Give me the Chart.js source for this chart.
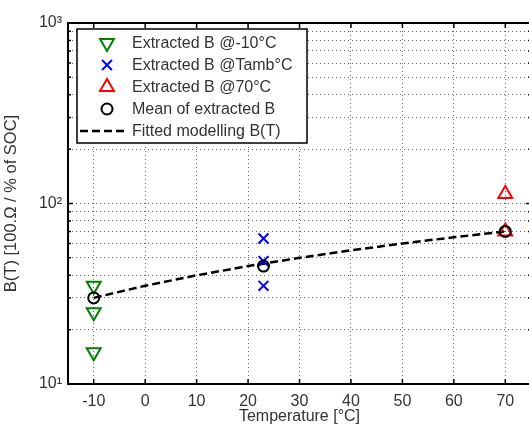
<html>
    <head>
        <script src="https://cdn.jsdelivr.net/npm/chart.js@4.4.1/dist/chart.umd.min.js"></script>
        <style>
            body { margin: 0; overflow: hidden; background: #fff; }
        </style>
    </head>
    <body>
        <canvas id="myChart" width="541" height="429"></canvas>

        <script>
            // values
            var tempCold = [-10, -10, -10];
            var bCold = [35, 25, 15];
            var tempAmb = [23, 23, 23];
            var bAmb = [64, 48, 35];
            var tempHot = [70, 70];
            var bHot = [113, 70];
            var tempMean = [-10, 23, 70];
            var bMean = [30, 45, 70];
            var tempFit = [-10, 0, 10, 20, 30, 40, 50, 60, 70];
            var bFit = [30, 35, 40, 45, 50, 55, 60, 65, 70];

            var xTicks = [-10, 0, 10, 20, 30, 40, 50, 60, 70];
            var yTicks = [10, 20, 30, 40, 50, 60, 70, 80, 90, 100, 200, 300, 400, 500, 600, 700, 800, 900, 1000];
            var yMajorLabels = { 10: '10\u00B9', 100: '10\u00B2', 1000: '10\u00B3' };

            function pts(xs, ys) {
                return xs.map(function (x, i) { return { x: x, y: ys[i] }; });
            }

            var textColor = '#333';
            var fontFamily = '"Liberation Sans", Arial, sans-serif';

            // MATLAB style box + inward ticks
            var boxPlugin = {
                id: 'box',
                afterDraw: function (chart) {
                    var ctx = chart.ctx, a = chart.chartArea;
                    var xs = chart.scales.x, ys = chart.scales.y;
                    ctx.save();
                    ctx.strokeStyle = '#000';
                    ctx.lineWidth = 1.5;
                    ctx.beginPath();
                    xTicks.forEach(function (v) {
                        var px = xs.getPixelForValue(v);
                        ctx.moveTo(px, a.bottom); ctx.lineTo(px, a.bottom - 5);
                        ctx.moveTo(px, a.top); ctx.lineTo(px, a.top + 5);
                    });
                    yTicks.forEach(function (v) {
                        var py = ys.getPixelForValue(v);
                        var len = yMajorLabels[v] ? 5 : 3;
                        ctx.moveTo(a.left, py); ctx.lineTo(a.left + len, py);
                        ctx.moveTo(a.right, py); ctx.lineTo(a.right - len, py);
                    });
                    ctx.stroke();
                    ctx.lineWidth = 2;
                    ctx.strokeRect(a.left, a.top, a.right - a.left, a.bottom - a.top);
                    ctx.restore();
                }
            };

            // legend box in the upper left of the plot
            var legendPlugin = {
                id: 'boxLegend',
                afterDraw: function (chart) {
                    var ctx = chart.ctx, a = chart.chartArea;
                    var x0 = a.left + 9, y0 = a.top + 6, w = 230, h = 114, row = 22;
                    ctx.save();
                    ctx.fillStyle = '#fff';
                    ctx.fillRect(x0, y0, w, h);
                    ctx.strokeStyle = '#000';
                    ctx.lineWidth = 1.5;
                    ctx.strokeRect(x0, y0, w, h);
                    chart.data.datasets.forEach(function (ds, i) {
                        var cy = y0 + 14 + i * row;
                        var mx = x0 + 30;
                        if (ds.showLine) {
                            ctx.strokeStyle = ds.borderColor;
                            ctx.lineWidth = ds.borderWidth;
                            ctx.setLineDash(ds.borderDash || []);
                            ctx.beginPath();
                            ctx.moveTo(x0 + 3, cy); ctx.lineTo(x0 + 51, cy);
                            ctx.stroke();
                            ctx.setLineDash([]);
                        } else if (Chart.helpers && Chart.helpers.drawPoint) {
                            ctx.strokeStyle = ds.pointBorderColor;
                            ctx.fillStyle = 'rgba(0,0,0,0)';
                            ctx.lineWidth = ds.pointBorderWidth;
                            Chart.helpers.drawPoint(ctx, {
                                pointStyle: ds.pointStyle,
                                radius: ds.pointRadius,
                                rotation: ds.pointRotation || 0,
                                borderWidth: ds.pointBorderWidth
                            }, mx, cy);
                        }
                        ctx.fillStyle = textColor;
                        ctx.font = '16px ' + fontFamily;
                        ctx.textBaseline = 'middle';
                        ctx.fillText(ds.label, x0 + 55, cy + 1);
                    });
                    ctx.restore();
                }
            };

            var ctx = document.getElementById('myChart').getContext('2d');
            var chart = new Chart(ctx, {
                type: 'scatter',
                data: {
                    datasets: [{
                        label: 'Extracted B @-10\u00B0C',
                        data: pts(tempCold, bCold),
                        pointStyle: 'triangle',
                        pointRotation: 180,
                        pointRadius: 8,
                        pointBorderWidth: 2,
                        pointBorderColor: '#008000',
                        pointBackgroundColor: 'rgba(0,0,0,0)',
                        order: 1
                    }, {
                        label: 'Extracted B @Tamb\u00B0C',
                        data: pts(tempAmb, bAmb),
                        pointStyle: 'crossRot',
                        pointRadius: 7,
                        pointBorderWidth: 2,
                        pointBorderColor: '#0000ff',
                        order: 2
                    }, {
                        label: 'Extracted B @70\u00B0C',
                        data: pts(tempHot, bHot),
                        pointStyle: 'triangle',
                        pointRadius: 8,
                        pointBorderWidth: 2,
                        pointBorderColor: '#ff0000',
                        pointBackgroundColor: 'rgba(0,0,0,0)',
                        order: 3
                    }, {
                        label: 'Mean of extracted B',
                        data: pts(tempMean, bMean),
                        pointStyle: 'circle',
                        pointRadius: 5.5,
                        pointBorderWidth: 2,
                        pointBorderColor: '#000',
                        pointBackgroundColor: 'rgba(0,0,0,0)',
                        order: 0
                    }, {
                        label: 'Fitted modelling B(T)',
                        data: pts(tempFit, bFit),
                        showLine: true,
                        borderColor: '#000',
                        borderWidth: 2.5,
                        borderDash: [8, 4],
                        pointRadius: 0,
                        order: 4
                    }]
                },
                options: {
                    responsive: false,
                    animation: false,
                    layout: { padding: { top: 23, right: 0, left: 0, bottom: 0 } },
                    plugins: {
                        legend: { display: false },
                        tooltip: { enabled: false }
                    },
                    scales: {
                        x: {
                            type: 'linear',
                            min: -15,
                            max: 75,
                            afterFit: function (s) {
                                s.height = 45;
                                s.paddingLeft = 0;
                                s.paddingRight = 0;
                            },
                            afterBuildTicks: function (s) {
                                s.ticks = xTicks.map(function (v) { return { value: v }; });
                            },
                            border: { display: false, dash: [1, 3] },
                            grid: {
                                color: '#666',
                                lineWidth: 1,
                                drawTicks: false
                            },
                            ticks: {
                                padding: 8,
                                color: textColor,
                                font: { family: fontFamily, size: 16 }
                            },
                            title: {
                                display: true,
                                text: 'Temperature [\u00B0C]',
                                color: textColor,
                                font: { family: fontFamily, size: 16 },
                                padding: { top: 0, bottom: 3 }
                            }
                        },
                        y: {
                            type: 'logarithmic',
                            min: 10,
                            max: 1000,
                            afterFit: function (s) { s.width = 68; },
                            afterBuildTicks: function (s) {
                                s.ticks = yTicks.map(function (v) { return { value: v, major: !!yMajorLabels[v] }; });
                            },
                            border: { display: false, dash: [1, 3] },
                            grid: {
                                color: '#666',
                                lineWidth: 1,
                                drawTicks: false
                            },
                            ticks: {
                                padding: 6,
                                autoSkip: false,
                                color: textColor,
                                font: { family: fontFamily, size: 16 },
                                callback: function (v) { return yMajorLabels[v] || ''; }
                            },
                            title: {
                                display: true,
                                text: 'B(T) [100.\u03A9 / % of SOC]',
                                color: textColor,
                                font: { family: fontFamily, size: 16.5 },
                                padding: { top: 2, bottom: 0 }
                            }
                        }
                    }
                },
                plugins: [boxPlugin, legendPlugin]
            });
        </script>
    </body>
</html>
